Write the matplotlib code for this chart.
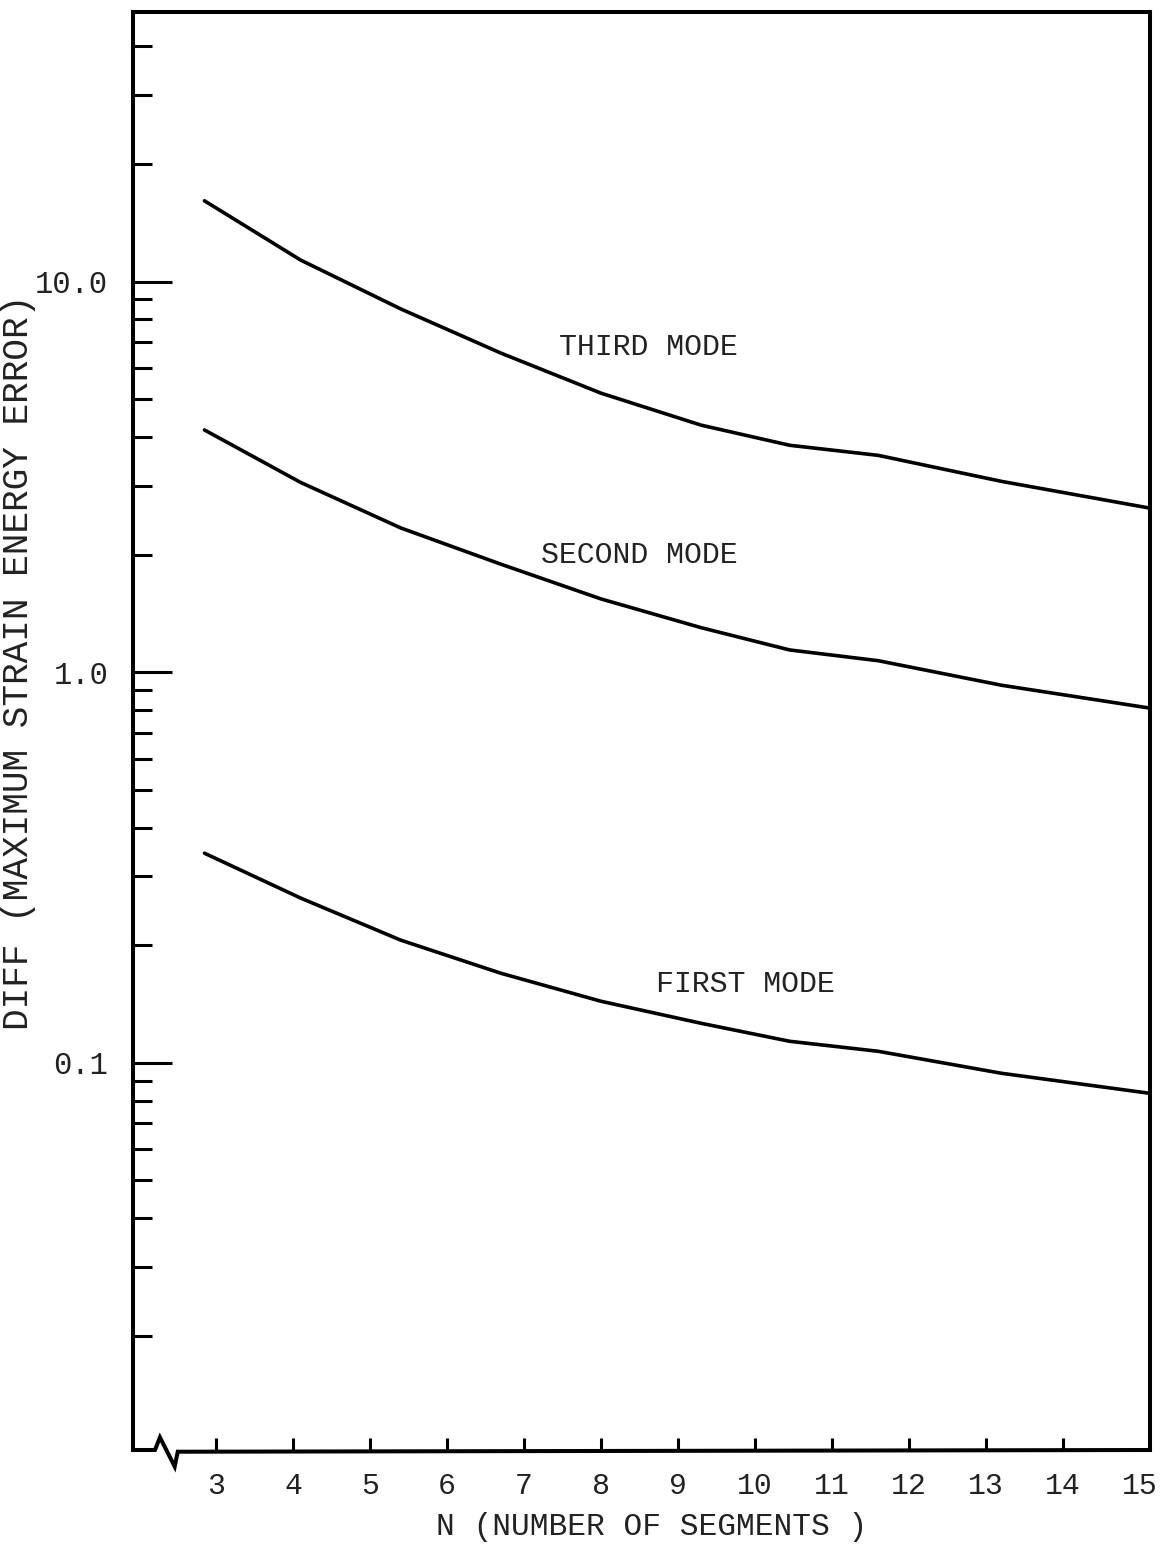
import matplotlib
matplotlib.use("Agg")
import matplotlib.pyplot as plt
from matplotlib.ticker import FixedLocator, LogLocator, NullFormatter

# Number of segments at which each curve was read
n_segments = [2.85, 4.1, 5.4, 6.7, 8.0, 9.3, 10.45, 11.6, 13.2, 15.13]

# Maximum strain energy error (DIFF) per mode
third_mode = [16.1, 11.35, 8.51, 6.56, 5.18, 4.29, 3.81, 3.59, 3.08, 2.63]
second_mode = [4.17, 3.06, 2.34, 1.89, 1.54, 1.30, 1.14, 1.07, 0.926, 0.809]
first_mode = [0.344, 0.264, 0.206, 0.1695, 0.1437, 0.1262, 0.1135, 0.107, 0.094, 0.0835]

x_ticks = [3, 4, 5, 6, 7, 8, 9, 10, 11, 12, 13, 14, 15]
y_major = [0.1, 1.0, 10.0]
y_major_labels = ["0.1", "1.0", "10.0"]

mode_labels = ["THIRD MODE", "SECOND MODE", "FIRST MODE"]
mode_label_pos = [(8.62, 6.8), (8.5, 2.0), (9.88, 0.159)]

FONT = "Liberation Mono"
plt.rcParams["font.family"] = [FONT, "DejaVu Sans Mono"]
INK = "#222222"

W, H = 1164, 1545
fig = plt.figure(figsize=(W / 100, H / 100), dpi=100)
ax = fig.add_axes([133 / W, 1 - 1450 / H, (1150 - 133) / W, (1450 - 12) / H])

ax.set_yscale("log")
ax.set_xlim(1.922, 15.13)
ax.set_ylim(0.0102, 49)

for series in (third_mode, second_mode, first_mode):
    ax.plot(n_segments, series, color="black", lw=2.6, solid_joinstyle="round",
            solid_capstyle="round")

for text, (xv, yv) in zip(mode_labels, mode_label_pos):
    ax.text(xv, yv, text, ha="center", va="center", fontsize=21.5, color=INK)

# Frame
for side in ("left", "top", "right"):
    ax.spines[side].set_linewidth(2.9)
ax.spines["bottom"].set_visible(False)

# Bottom axis with the break mark near the origin
bx = [0.0, 0.0216, 0.0265, 0.041, 0.044, 1.0]
by = [0.0, 0.0, 0.0088, -0.0115, -0.0012, 0.0]
ax.plot(bx, by, transform=ax.transAxes, color="black", lw=2.9, clip_on=False,
        solid_joinstyle="miter")

# Y axis ticks
ax.yaxis.set_major_locator(FixedLocator(y_major))
ax.set_yticklabels(y_major_labels)
ax.yaxis.set_minor_locator(LogLocator(base=10, subs=[2, 3, 4, 5, 6, 7, 8, 9]))
ax.yaxis.set_minor_formatter(NullFormatter())
ax.tick_params(axis="y", which="major", direction="in", length=28, width=2.2,
               pad=18, labelsize=22, labelcolor=INK)
ax.tick_params(axis="y", which="minor", direction="in", length=14, width=2.2)
ax.tick_params(axis="y", which="both", right=False)

# X axis ticks
ax.set_xticks(x_ticks)
ax.set_xticklabels([str(t) for t in x_ticks])
ax.tick_params(axis="x", which="major", direction="in", length=9, width=2.2,
               pad=16, labelsize=21.5, labelcolor=INK, top=False)
ax.xaxis.get_major_ticks()[-1].tick1line.set_visible(False)

# Axis titles
fig.text(652 / W, 1 - 1527 / H, "N (NUMBER OF SEGMENTS )", ha="center", va="center",
         fontsize=22.5, color=INK)
fig.text(19 / W, 1 - 662 / H, "DIFF (MAXIMUM STRAIN ENERGY ERROR)", ha="center",
         va="center", rotation=90, fontsize=26, color=INK)

fig.savefig("out.png", dpi=100, facecolor="white")
